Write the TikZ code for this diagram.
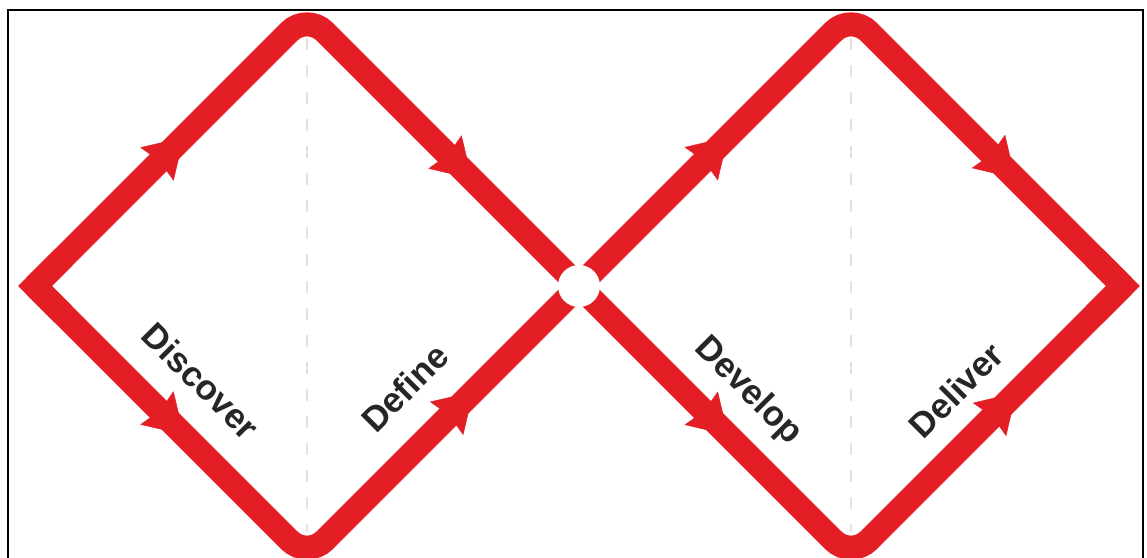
\documentclass[tikz,border=0pt]{standalone}
\usepackage{fontspec}
\setmainfont{Liberation Sans}
\usetikzlibrary{arrows.meta,decorations.markings,calc}
\definecolor{ddred}{RGB}{227,30,37}
\definecolor{ddtext}{RGB}{38,38,38}
\definecolor{ddgrid}{RGB}{226,226,226}
\tikzset{
  track/.style={draw=ddred, line width=24pt, line cap=butt},
  roundtrack/.style={track, rounded corners=25pt},
  tiptrack/.style={track, line join=miter, miter limit=4},
  flow/.style={color=ddred, postaction={decorate},
    decoration={markings, mark=at position #1 with {\arrow{Stealth[length=38pt,width=47pt,inset=4pt]}}}},
  guide/.style={draw=ddgrid, line width=2.5pt, dash pattern=on 12pt off 15pt},
  lbl/.style={text=ddtext, font=\fontsize{35}{40}\selectfont\bfseries, inner sep=0pt},
  hubdot/.style={circle, fill=white, minimum size=42pt, inner sep=0pt},
  frame/.style={draw=black, line width=2pt}
}
\begin{document}
\begin{tikzpicture}[x=1pt,y=-1pt]
\useasboundingbox (0,0) rectangle (1147,557);
\fill[white] (0,0) rectangle (1147,557);
\clip (0,0) rectangle (1147,557);
% frame
\draw[frame] (8,10) rectangle (1143,620);
% key points
\coordinate (L) at (35,286);
\coordinate (T1) at (307,14);
\coordinate (B1) at (307,558);
\coordinate (C) at (579,286);
\coordinate (T2) at (851,14);
\coordinate (B2) at (851,558);
\coordinate (R) at (1123,286);
% guides
\coordinate (g1a) at (307,38);
\coordinate (g1b) at (307,532);
\coordinate (g2a) at (851,38);
\coordinate (g2b) at (851,532);
\draw[guide] (g1a) -- (g1b);
\draw[guide] (g2a) -- (g2b);
% tracks
\draw[roundtrack] (L) -- (T1) -- (C);
\draw[roundtrack] (L) -- (B1) -- (C);
\draw[roundtrack] (C) -- (T2) -- (R);
\draw[roundtrack] (C) -- (B2) -- (R);
\draw[tiptrack] ($(L)!40pt!(T1)$) -- (L) -- ($(L)!40pt!(B1)$);
\draw[tiptrack] ($(R)!40pt!(T2)$) -- (R) -- ($(R)!40pt!(B2)$);
% arrows
\path[flow=0.547] (L) -- (T1);
\path[flow=0.547] (L) -- (B1);
\path[flow=0.606] (T1) -- (C);
\path[flow=0.612] (B1) -- (C);
\path[flow=0.548] (C) -- (T2);
\path[flow=0.548] (C) -- (B2);
\path[flow=0.604] (T2) -- (R);
\path[flow=0.608] (B2) -- (R);
% hub
\node[hubdot] (hub) at (C) {};
% labels
\node[lbl, rotate=-45] (discover) at (201,381) {Discover};
\node[lbl, rotate=45] (define) at (405,388) {Define};
\node[lbl, rotate=-45] (develop) at (748,391) {Develop};
\node[lbl, rotate=45] (deliver) at (956,390) {Deliver};
\end{tikzpicture}
\end{document}
